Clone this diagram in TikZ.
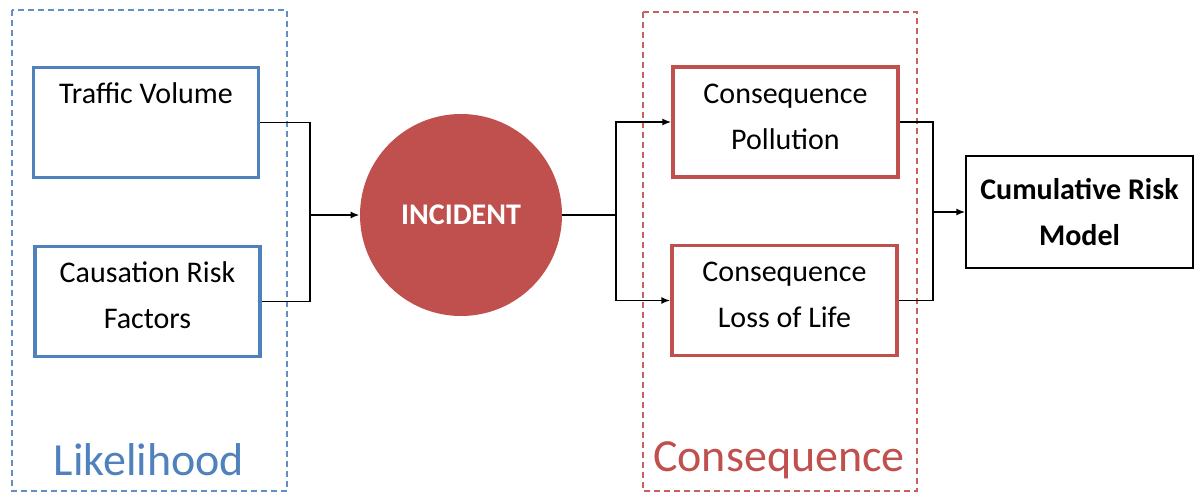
\documentclass[tikz,border=0pt]{standalone}
\usepackage{fontspec}
\setmainfont{Carlito}
\usepackage{tikz}
\usetikzlibrary{arrows.meta, positioning, calc}
\definecolor{likeblue}{HTML}{4F81BD}
\definecolor{conred}{HTML}{C0504D}

\begin{document}
\begin{tikzpicture}[x=0.5pt, y=-0.5pt, >={Latex[length=4.5pt, width=3.5pt]},
    font=\fontsize{15}{23}\selectfont,
    likebox/.style={draw=likeblue, line width=1.6pt, minimum width=112.5pt, minimum height=55pt, align=center, inner sep=0pt, text height=27pt, text depth=0pt},
    conbox/.style={draw=conred, line width=1.6pt, minimum width=112.5pt, minimum height=55pt, align=center, inner sep=0pt, text height=27pt, text depth=0pt},
    group/.style={dash pattern=on 3pt off 2pt, line width=0.75pt},
    link/.style={line width=0.9pt}]
  \useasboundingbox (0,0) rectangle (1200,492);

  % Gruppen
  \draw[group, likeblue!90] (12,10) rectangle (287,491);
  \draw[group, conred!90] (643,12) rectangle (917,491);
  \node[text=likeblue, font=\fontsize{23}{27}\selectfont] (likelabel) at (149,460) {Likelihood};
  \node[text=conred, font=\fontsize{23}{27}\selectfont] (conlabel) at (779,460) {Consequence};

  % Likelihood
  \node[likebox] (traffic) at (146,122.5) {Traffic Volume\\ \mbox{}};
  \node[likebox] (cause) at (147.5,301.5) {Causation Risk\\Factors};

  % Incident
  \node[circle, fill=conred, minimum size=101pt, inner sep=0pt, text=white, font=\fontsize{15}{18}\selectfont\bfseries] (incident) at (461,215) {INCIDENT};

  % Consequence
  \node[conbox] (pollution) at (785.5,122) {Consequence\\Pollution};
  \node[conbox] (life) at (784.5,300.5) {Consequence\\Loss of Life};

  % Model
  \node[draw, line width=0.6pt, minimum width=113.5pt, minimum height=56pt, align=center, inner sep=0pt, font=\fontsize{15}{23}\selectfont\bfseries] (model) at (1079.5,212) {Cumulative Risk\\Model};

  % Verbindungen
  \coordinate (jleft) at (310,215);
  \coordinate (jmid) at (616,215);
  \coordinate (jright) at (933,212);
  \draw[link] (traffic.east) -| (jleft) |- (cause.east);
  \draw[link, ->] (jleft) -- (incident);
  \draw[link] (incident) -- (jmid);
  \draw[link, ->] (jmid) |- (pollution.west);
  \draw[link, ->] (jmid) |- (life.west);
  \draw[link] (pollution.east) -| (jright) |- (life.east);
  \draw[link, ->] (jright) -- (model);
\end{tikzpicture}
\end{document}
